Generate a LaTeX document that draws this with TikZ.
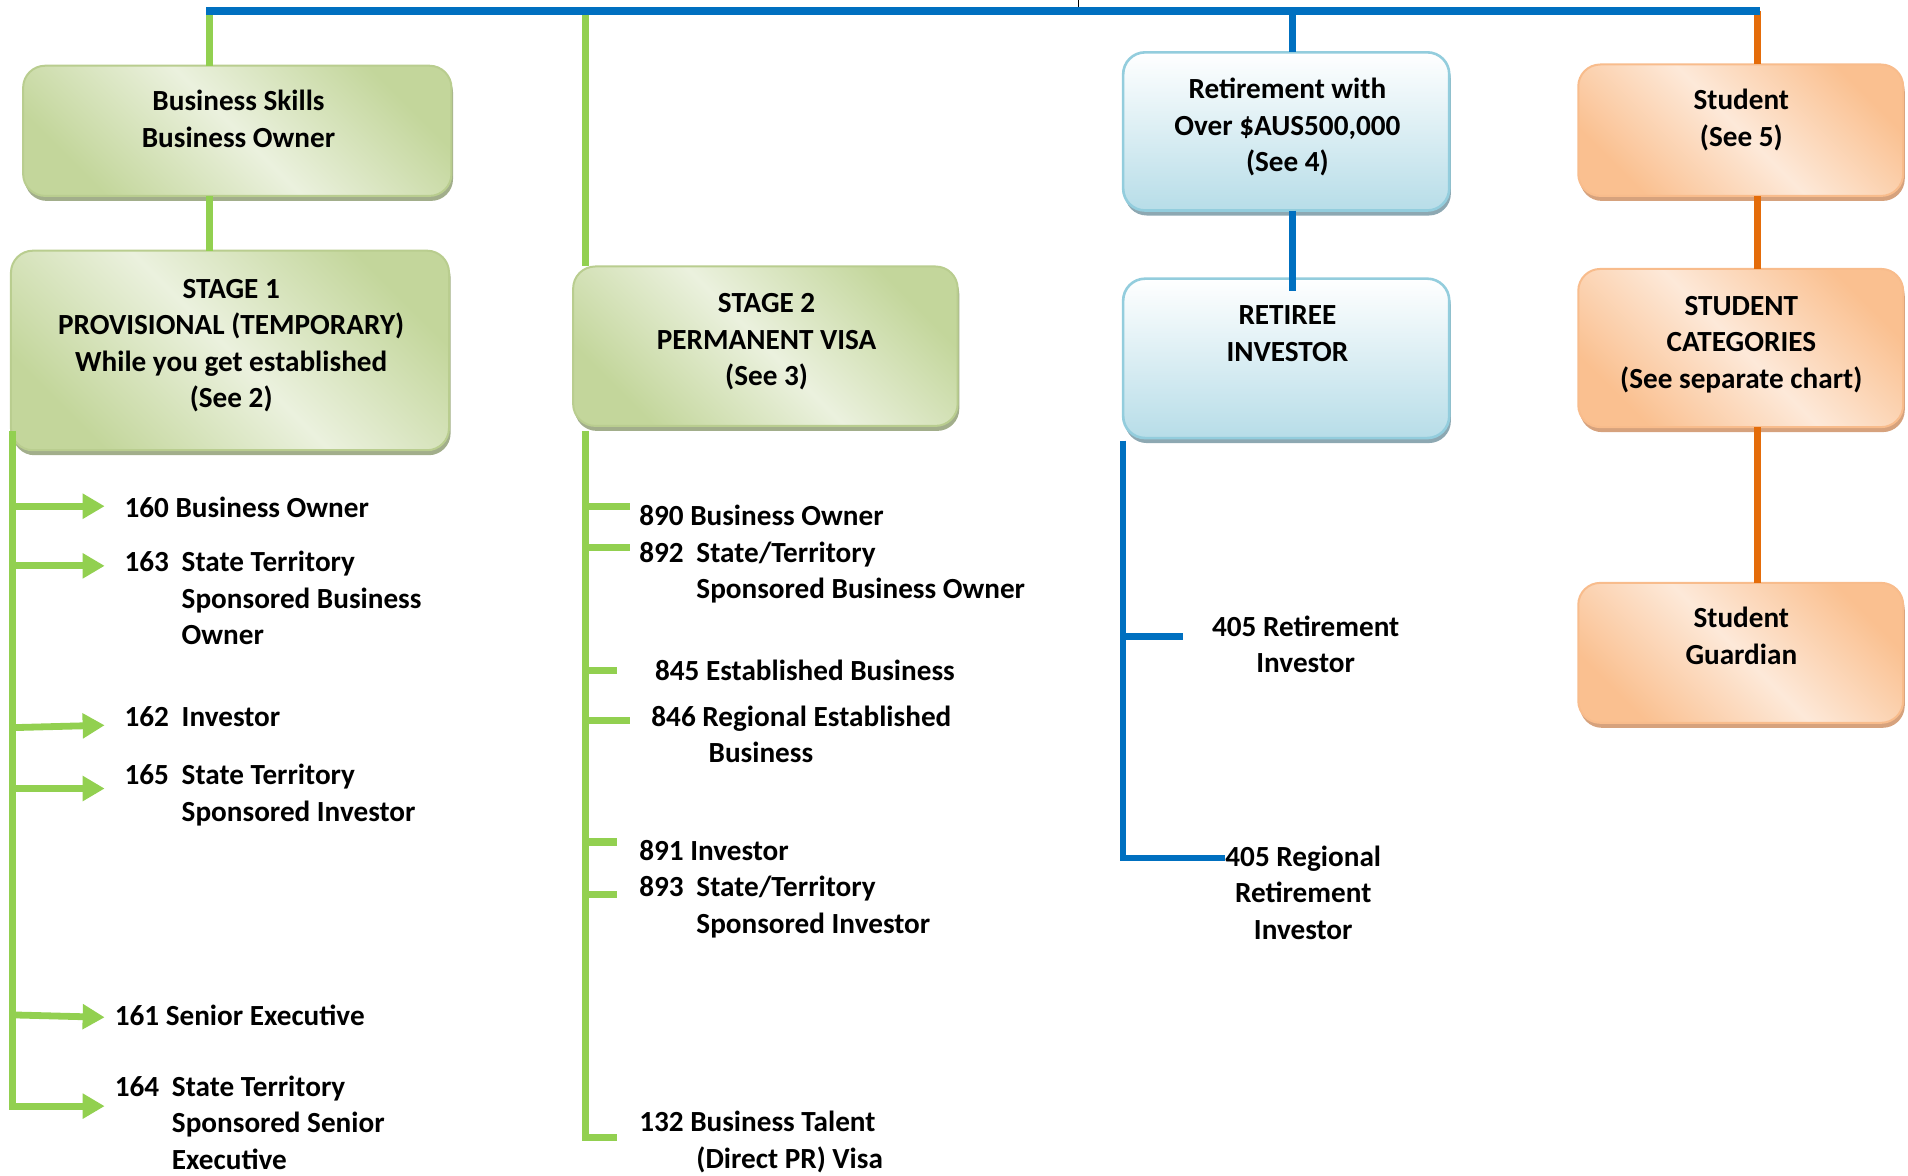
\documentclass[tikz,border=0pt]{standalone}
\usepackage{fontspec}
\setmainfont{Carlito}
\usetikzlibrary{arrows.meta,shadows,fit}
\definecolor{lgreen}{HTML}{92D050}
\definecolor{lblue}{HTML}{0070C0}
\definecolor{lorange}{HTML}{E46C0A}
\definecolor{gdark}{HTML}{C3D69B}
\definecolor{glight}{HTML}{EBF1DE}
\definecolor{gborder}{HTML}{B9CD8F}
\definecolor{gshadow}{HTML}{A2AE8B}
\definecolor{bdark}{HTML}{B7DDE8}
\definecolor{bborder}{HTML}{93CDDD}
\definecolor{bshadow}{HTML}{8DA8B2}
\definecolor{odark}{HTML}{FAC090}
\definecolor{olight}{HTML}{FDE9D9}
\definecolor{oborder}{HTML}{F8BC8C}
\definecolor{oshadow}{HTML}{D6A27D}
\newcommand{\ctab}[1]{\begin{tabular}[t]{@{}c@{}}#1\end{tabular}}
\newcommand{\ltab}[1]{\begin{tabular}[t]{@{}l@{}}#1\end{tabular}}
\newcommand{\numbox}[1]{\makebox[28.6pt][l]{#1}}
\newcommand{\indt}{\hspace*{28.6pt}}
\tikzset{
  box/.style={rounded corners=11pt, inner sep=0pt, outer sep=0pt, line width=1pt},
  gbox/.style={box, draw=gborder, top color=gdark, bottom color=gdark, middle color=glight, shading angle=-45,
     drop shadow={shadow xshift=0.8pt, shadow yshift=-2.5pt, fill=gshadow, opacity=1}},
  bbox/.style={box, draw=bborder, line width=1.3pt, top color=white, bottom color=bdark, shading angle=0,
     drop shadow={shadow xshift=0.8pt, shadow yshift=-2.5pt, fill=bshadow, opacity=1}},
  obox/.style={box, draw=oborder, top color=odark, bottom color=odark, middle color=olight, shading angle=-45,
     drop shadow={shadow xshift=0.8pt, shadow yshift=-2.5pt, fill=oshadow, opacity=1}},
  txt/.style={inner sep=0pt, font=\fontsize{14.6}{18.25}\selectfont\bfseries},
  gline/.style={draw=lgreen, line width=3.6pt},
  bline/.style={draw=lblue, line width=3.6pt},
  oline/.style={draw=lorange, line width=3.4pt},
  garrow/.style={draw=lgreen, line width=3.4pt, -{Triangle[length=11pt,width=12pt]}},
}
\begin{document}
\begin{tikzpicture}[x=0.6084pt,y=-0.6084pt]
\useasboundingbox (0,0) rectangle (1568,966);

% top line
\coordinate (topL) at (172,9);
\coordinate (topR) at (1444,9);
\coordinate (topM) at (481,9);
\coordinate (topB) at (1062,9);
\coordinate (tick0) at (886,0);
\coordinate (tick1) at (886,8);
\draw[black, line width=0.6pt] (tick0) -- (tick1);

% boxes
\node[gbox, fit={(19,54) (371,161)}] (b1) {};
\node[gbox, fit={(9,206) (369,370)}] (s1) {};
\node[gbox, fit={(471,219) (787,350)}] (s2) {};
\node[bbox, fit={(923,43) (1191,173)}] (ret) {};
\node[bbox, fit={(923,229) (1191,360)}] (retinv) {};
\node[obox, fit={(1297,53) (1564,161)}] (stu) {};
\node[obox, fit={(1297,221) (1564,351)}] (cat) {};
\node[obox, fit={(1297,479) (1564,594)}] (guard) {};

% vertical connectors
\draw[gline] (topL) -- (b1.north -| topL);
\draw[gline] (b1.south -| topL) -- (s1.north -| topL);
\draw[gline] (topM) -- (s2.north -| topM);
\draw[bline] (topB) -- (ret.north -| topB);
\draw[bline] (ret.south -| topB) -- ([yshift=-6pt]retinv.north -| topB);
\draw[oline] (topR) -- (stu.north -| topR);
\draw[oline] (stu.south -| topR) -- (cat.north -| topR);
\draw[oline] (cat.south -| topR) -- (guard.north -| topR);
\draw[bline, line width=3.8pt] ([xshift=-1.5pt]topL) -- ([xshift=1.5pt]topR);

% box texts
\node[txt, anchor=base] (b1t) at (196,91) {\ctab{Business Skills\\Business Owner}};
\node[txt, anchor=base] (s1t) at (190,245) {\ctab{STAGE 1\\PROVISIONAL (TEMPORARY)\\While you get established\\(See 2)}};
\node[txt, anchor=base] (s2t) at (630,257) {\ctab{STAGE 2\\PERMANENT VISA\\(See 3)}};
\node[txt, anchor=base] (rett) at (1058,81) {\ctab{Retirement with\\Over \$AUS500,000\\(See 4)}};
\node[txt, anchor=base] (retinvt) at (1058,267) {\ctab{RETIREE\\INVESTOR}};
\node[txt, anchor=base] (stut) at (1431,90) {\ctab{Student\\(See 5)}};
\node[txt, anchor=base] (catt) at (1431,259) {\ctab{STUDENT\\CATEGORIES\\(See separate chart)}};
\node[txt, anchor=base] (guardt) at (1431,516) {\ctab{Student\\Guardian}};

% left spine (stage 1)
\coordinate (ls0) at (10,354);
\coordinate (ls1) at (10,912);
\draw[gline] (ls0) -- (ls1);
\foreach \n/\ya/\yb in {a1/416/416, a2/465/465, a3/598/596, a4/648/648, a5/834/836, a6/909/909}{
  \coordinate (\n s) at (9,\ya);
  \coordinate (\n e) at (86,\yb);
  \draw[garrow] (\n s) -- (\n e);
}
\node[txt, anchor=base west] (L160) at (102,425) {\ltab{160 Business Owner}};
\node[txt, anchor=base west] (L163) at (102,470) {\ltab{\numbox{163}State Territory\\\indt Sponsored Business\\\indt Owner}};
\node[txt, anchor=base west] (L162) at (102,597) {\ltab{\numbox{162}Investor}};
\node[txt, anchor=base west] (L165) at (102,645) {\ltab{\numbox{165}State Territory\\\indt Sponsored Investor}};
\node[txt, anchor=base west] (L161) at (94,843) {\ltab{161 Senior Executive}};
\node[txt, anchor=base west] (L164) at (94,901) {\ltab{\numbox{164}State Territory\\\indt Sponsored Senior\\\indt Executive}};

% middle spine (stage 2)
\coordinate (ms0) at (481,354);
\coordinate (ms1) at (481,935);
\coordinate (t132) at (507,935);
\draw[gline, line join=miter] (ms0) -- (ms1) -- (t132);
\foreach \n/\y/\xe in {m1/416/518, m2/450/518, m3/551/507, m4/592/518, m5/692/507, m6/735/507}{
  \coordinate (\n s) at (481,\y);
  \coordinate (\n e) at (\xe,\y);
  \draw[gline] (\n s) -- (\n e);
}
\node[txt, anchor=base west] (M890) at (525,432) {\ltab{890 Business Owner}};
\node[txt, anchor=base west] (M892) at (525,462) {\ltab{\numbox{892}State/Territory\\\indt Sponsored Business Owner}};
\node[txt, anchor=base west] (M845) at (538,559) {\ltab{845 Established Business}};
\node[txt, anchor=base west] (M846) at (535,597) {\ltab{846 Regional Established\\\indt Business}};
\node[txt, anchor=base west] (M891) at (525,707) {\ltab{891 Investor}};
\node[txt, anchor=base west] (M893) at (525,737) {\ltab{\numbox{893}State/Territory\\\indt Sponsored Investor}};
\node[txt, anchor=base west] (M132) at (525,930) {\ltab{132 Business Talent\\\indt (Direct PR) Visa}};

% blue spine (retiree)
\coordinate (bs0) at (923,362);
\coordinate (bs1) at (923,705);
\coordinate (bt2) at (1007,705);
\coordinate (bt1s) at (923,523);
\coordinate (bt1e) at (972,523);
\draw[bline, line width=3.3pt, line join=miter] (bs0) -- (bs1) -- (bt2);
\draw[bline, line width=3.3pt] (bt1s) -- (bt1e);
\node[txt, anchor=base] (R405) at (1073,523) {\ctab{405 Retirement\\Investor}};
\node[txt, anchor=base] (R405r) at (1071,712) {\ctab{405 Regional\\Retirement\\Investor}};
\end{tikzpicture}
\end{document}
